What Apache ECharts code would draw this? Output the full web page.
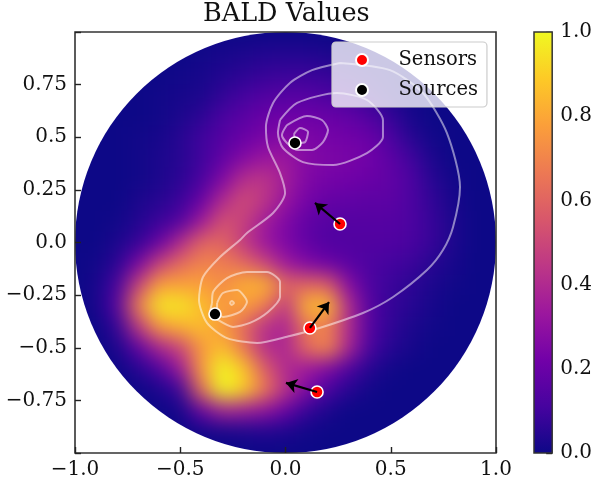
<!DOCTYPE html>
<html><head><meta charset="utf-8">
<script src="https://cdn.jsdelivr.net/npm/echarts@6/dist/echarts.min.js"></script>
<style>
html,body{margin:0;padding:0;background:#fff;width:595px;height:485px;overflow:hidden}
#heatClip,#front{position:absolute;left:0;top:0;width:595px;height:485px}
#heat{width:595px;height:485px;filter:blur(10px)}
</style></head><body>
<div id="heatClip"><div id="heat"></div></div>
<div id="front"></div>
<script>
const cellX=[-1,-.9,-.8,-.7,-.6,-.5,-.4,-.3,-.2,-.1,0,.1,.2,.3,.4,.5,.6,.7,.8,.9,1];
const cellY=[1,.9,.8,.7,.6,.5,.4,.3,.2,.1,0,-.1,-.2,-.3,-.4,-.5,-.6,-.7,-.8,-.9,-1];
const cellSize=0.1;
const heatRows=[
[0,0,0,0,0,0,0,0,0,0,0,0,0,0,0,0,0,0,0,0,0],
[0,0,0,0,0,0,.01,.02,.03,.04,.04,.04,.03,.02,.01,0,0,0,0,0,0],
[0,0,0,0,0,.01,.02,.04,.06,.08,.09,.09,.08,.06,.04,.02,0,0,0,0,0],
[0,0,0,0,.01,.02,.03,.07,.11,.14,.15,.15,.13,.11,.07,.03,.01,0,0,0,0],
[0,0,0,0,.01,.03,.06,.12,.16,.2,.21,.21,.2,.18,.14,.08,.02,0,0,0,0],
[0,0,0,.01,.02,.05,.1,.15,.2,.24,.27,.25,.23,.22,.2,.13,.05,.01,0,0,0],
[0,0,0,.01,.03,.05,.1,.18,.27,.33,.33,.27,.25,.24,.22,.17,.1,.03,0,0,0],
[0,0,0,.01,.03,.06,.12,.26,.42,.44,.35,.26,.23,.22,.2,.18,.13,.05,.01,0,0],
[0,0,0,.03,.05,.09,.2,.4,.52,.44,.32,.23,.19,.18,.17,.17,.13,.07,.02,0,0],
[0,0,.01,.04,.09,.15,.34,.54,.48,.35,.26,.18,.15,.15,.15,.15,.13,.08,.03,0,0],
[0,0,.03,.08,.2,.4,.6,.6,.46,.33,.25,.18,.14,.14,.14,.14,.12,.08,.03,0,0],
[0,.01,.06,.24,.48,.62,.7,.68,.62,.5,.34,.26,.21,.16,.13,.11,.09,.05,.02,0,0],
[0,.02,.12,.48,.78,.78,.78,.72,.82,.84,.6,.6,.58,.28,.13,.09,.06,.03,.01,0,0],
[0,.02,.16,.68,.96,.96,.86,.76,.78,.68,.44,.84,.86,.4,.15,.08,.05,.02,0,0,0],
[0,0,.08,.44,.76,.82,.86,.76,.62,.42,.38,.66,.68,.4,.15,.07,.03,.01,0,0,0],
[0,0,.03,.18,.38,.5,.76,.86,.66,.42,.38,.62,.72,.38,.12,.05,.02,0,0,0,0],
[0,0,0,.05,.14,.34,.76,1,.88,.58,.4,.34,.26,.14,.05,.01,0,0,0,0,0],
[0,0,0,0,.03,.1,.62,1,.9,.66,.42,.26,.12,.05,.01,0,0,0,0,0,0],
[0,0,0,0,0,.02,.2,.36,.34,.3,.2,.08,.03,0,0,0,0,0,0,0,0],
[0,0,0,0,0,0,.01,.02,.03,.04,.03,.01,0,0,0,0,0,0,0,0,0],
[0,0,0,0,0,0,0,0,0,0,0,0,0,0,0,0,0,0,0,0,0]
];
const plasma=['#0d0887','#46039f','#7201a8','#9c179e','#bd3786','#d8576b','#ed7953','#fb9f3a','#fdca26','#f0f921'];
const sensors=[[.259,.088],[.116,-.406],[.15,-.71]];
const sources=[[.045,.473],[-.335,-.34]];
const arrowTips=[[.14,.188],[.207,-.283],[.002,-.667]];
const contourOuter=[[.259,.853],[.496,.819],[.653,.710],[.767,.520],[.829,.264],[.796,.074],[.748,-.036],[.672,-.131],[.511,-.259],[.368,-.335],[.131,-.416],[.021,-.444],[-.135,-.477],[-.278,-.454],[-.373,-.382],[-.411,-.273],[-.392,-.164],[-.311,-.069],[-.216,.012],[-.183,.045],[-.059,.140],[-.002,.235],[-.026,.330],[-.083,.454],[-.093,.549],[-.059,.663],[.021,.758],[.126,.819],[.259,.853]];
const contourUpper2=[[-.026,.582],[.055,.663],[.245,.710],[.387,.677],[.463,.582],[.463,.501],[.387,.425],[.226,.368],[.083,.382],[-.012,.449],[-.036,.520],[-.026,.582]];
const contourUpper3=[[.007,.558],[.102,.601],[.173,.582],[.202,.534],[.178,.477],[.126,.439],[.059,.439],[.007,.473],[-.017,.511],[.007,.558]];
const contourUpper4=[[.040,.515],[.069,.544],[.107,.525],[.093,.477],[.055,.473],[.040,.515]];
const contourLower2=[[-.349,-.287],[-.344,-.235],[-.278,-.169],[-.183,-.140],[-.088,-.140],[-.026,-.188],[-.026,-.259],[-.083,-.330],[-.169,-.382],[-.249,-.401],[-.321,-.368],[-.359,-.335],[-.349,-.287]];
const contourLower3=[[-.325,-.287],[-.297,-.240],[-.230,-.226],[-.183,-.283],[-.216,-.330],[-.297,-.354],[-.325,-.321],[-.325,-.287]];
const contourLower4=[[-.265,-.287],[-.255,-.278],[-.245,-.287],[-.255,-.297],[-.265,-.287]];
const contours=[contourOuter,contourUpper2,contourUpper3,contourUpper4,contourLower2,contourLower3,contourLower4];

const FONT='DejaVu Serif';
const GRID={left:75,top:32,width:421,height:421};
const heatCells=[];
heatRows.forEach((row,j)=>row.forEach((v,i)=>heatCells.push([cellX[i],cellY[j],v])));

const heat=echarts.init(document.getElementById('heat'),null,{width:595,height:485});
heat.setOption({
  animation:false,backgroundColor:plasma[0],
  grid:GRID,
  xAxis:{type:'value',min:-1,max:1,show:false},
  yAxis:{type:'value',min:-1,max:1,show:false},
  visualMap:{show:false,min:0,max:1,dimension:2,inRange:{color:plasma}},
  series:[{type:'custom',data:heatCells,renderItem(p,api){
    const a=api.coord([api.value(0)-cellSize/2,api.value(1)+cellSize/2]);
    const s=api.size([cellSize,cellSize]);
    return {type:'rect',shape:{x:a[0],y:a[1],width:s[0]+.5,height:s[1]+.5},style:{fill:api.visual('color')}};
  }}]
});
const c0=heat.convertToPixel({gridIndex:0},[0,0]);
const c1=heat.convertToPixel({gridIndex:0},[1,0]);
document.getElementById('heatClip').style.clipPath=`circle(${c1[0]-c0[0]}px at ${c0[0]}px ${c0[1]}px)`;

const fmt=v=>String(v.toFixed(Math.abs(v*100)%50===0?1:2)).replace('-','\u2212');
const tickStyle={show:true,inside:true,length:6,lineStyle:{color:'#222',width:1.4}};
const labelStyle={color:'#111',fontFamily:FONT,fontSize:20};
const yLabelPad={padding:[5,0,0,0]};
const noLine={show:false,onZero:false};
const chart=echarts.init(document.getElementById('front'),null,{width:595,height:485});
const series=[];
contours.forEach((c,i)=>series.push({type:'line',name:'contour'+i,data:c,showSymbol:false,symbol:'none',smooth:.25,silent:true,z:3,
  lineStyle:{color:'rgba(255,255,255,.5)',width:2}}));
const dot=(name,data,color)=>({type:'scatter',name,data,symbol:'circle',symbolSize:12,z:4,
  itemStyle:{color,opacity:1,borderColor:'#fff',borderWidth:1.6}});
series.push(dot('Sensors',sensors,'#ff0000'),dot('Sources',sources,'#000000'));
series.push({type:'lines',coordinateSystem:'cartesian2d',z:5,polyline:false,
  data:sensors.map((s,i)=>({coords:[s,arrowTips[i]]})),
  symbol:['none','arrow'],symbolSize:[0,11],lineStyle:{color:'#000',width:2.2,opacity:1}});
series.push({type:'custom',xAxisIndex:1,yAxisIndex:1,data:[[0,0]],z:2,renderItem(p,api){
  const a=api.coord([0,1]),b=api.coord([1,0]);
  return {type:'rect',shape:{x:a[0],y:a[1],width:b[0]-a[0],height:b[1]-a[1]},
    style:{stroke:'#333',lineWidth:1.5,fill:new echarts.graphic.LinearGradient(0,1,0,0,plasma.map((c,i)=>({offset:i/(plasma.length-1),color:c})))}};
}});
chart.setOption({
  animation:false,
  title:{text:'BALD Values',left:198,top:-4,textStyle:{fontFamily:FONT,fontWeight:'normal',fontSize:25.5,color:'#111'}},
  legend:{data:['Sensors','Sources'],left:332,top:42,orient:'vertical',padding:[8,9,7,23],itemGap:10,itemWidth:23,itemHeight:12,selectedMode:false,
    backgroundColor:'rgba(255,255,255,.78)',borderColor:'#ccc',borderWidth:1.2,borderRadius:4,
    textStyle:{fontFamily:FONT,fontSize:19.5,color:'#111',padding:[0,0,2,20]}},
  grid:[Object.assign({show:true,borderColor:'#333',borderWidth:1.6,backgroundColor:'transparent'},GRID),{left:534,top:32,width:20,height:421}],
  xAxis:[
    {type:'value',min:-1,max:1,interval:.5,axisLine:noLine,axisTick:tickStyle,splitLine:{show:false},axisLabel:Object.assign({margin:7,formatter:fmt},labelStyle)},
    {type:'value',gridIndex:1,min:0,max:1,show:false}
  ],
  yAxis:[
    {type:'value',min:-1,max:1,interval:.25,axisLine:noLine,axisTick:tickStyle,splitLine:{show:false},axisLabel:Object.assign({margin:8,formatter:v=>Math.abs(v)===1?'':fmt(v)},labelStyle,yLabelPad)},
    {type:'value',gridIndex:1,position:'right',min:0,max:1,interval:.2,axisLine:noLine,axisTick:{show:true,inside:true,length:6,lineStyle:{color:'#111',width:1.4}},splitLine:{show:false},axisLabel:Object.assign({margin:8,formatter:v=>v.toFixed(1)},labelStyle,yLabelPad)}
  ],
  series
});
</script></body></html>
